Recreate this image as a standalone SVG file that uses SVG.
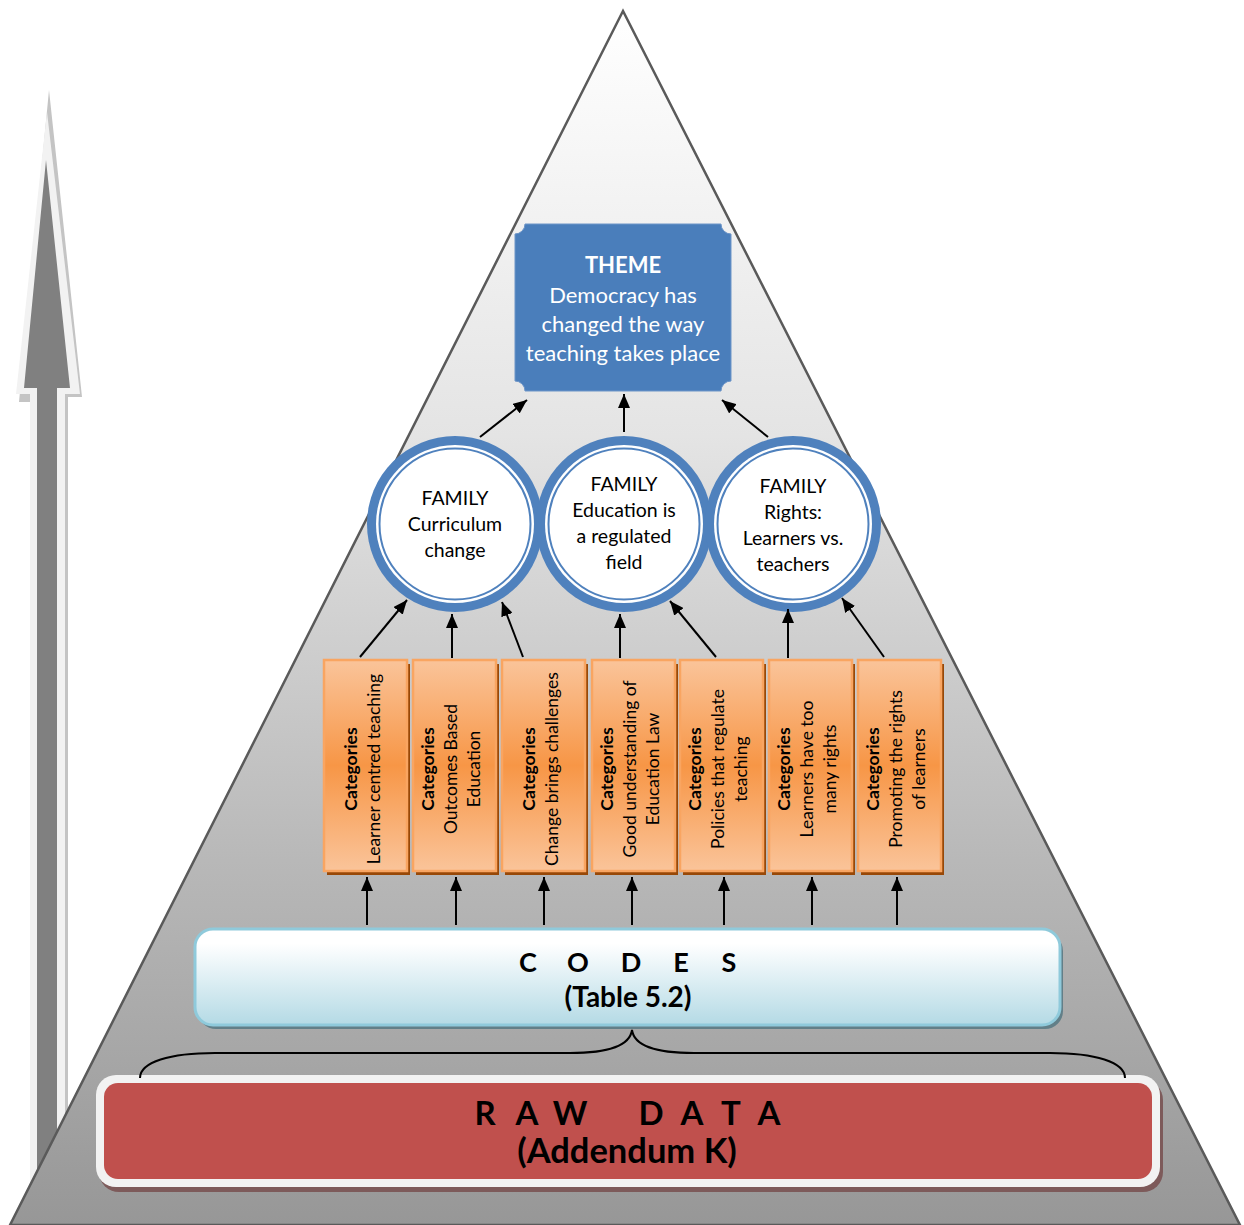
<svg xmlns="http://www.w3.org/2000/svg" width="1244" height="1225" viewBox="0 0 1244 1225">
<defs>
<linearGradient id="pyr" x1="0" y1="0" x2="0" y2="1">
<stop offset="0" stop-color="#ffffff"/>
<stop offset="0.35" stop-color="#e4e4e4"/>
<stop offset="0.7" stop-color="#b8b8b8"/>
<stop offset="1" stop-color="#979797"/>
</linearGradient>
<linearGradient id="cat" x1="0" y1="0" x2="0" y2="1">
<stop offset="0" stop-color="#fac49a"/>
<stop offset="0.5" stop-color="#f79646"/>
<stop offset="1" stop-color="#fac49a"/>
</linearGradient>
<linearGradient id="codes" x1="0" y1="0" x2="0" y2="1">
<stop offset="0" stop-color="#ffffff"/>
<stop offset="0.15" stop-color="#ffffff"/>
<stop offset="1" stop-color="#b4dae5"/>
</linearGradient>
<marker id="ah" markerUnits="userSpaceOnUse" markerWidth="14" markerHeight="12" viewBox="0 0 14 12" refX="14" refY="6" orient="auto">
<path d="M0,0 L14,6 L0,12 z" fill="#000"/>
</marker>
<style>
.t{font-family:Lato,"Open Sans","Liberation Sans",sans-serif;}
.theme{fill:#fff;font-size:22px;text-anchor:middle;}
.fam{fill:#000;font-size:19.5px;text-anchor:middle;}
.ct{fill:#000;font-size:17.5px;text-anchor:middle;}
.b{font-weight:bold;}
.conn line,.conn path{stroke:#000;stroke-width:2;fill:none;}
.conn line{marker-end:url(#ah);}
.catbox{fill:url(#cat);stroke:#f9a561;stroke-width:2.5;}
.catsh{fill:#984807;}
.ring{fill:#4f81bd;}
.inner{fill:#fff;stroke:#4f81bd;stroke-width:2;}
</style>
</defs>
<rect width="1244" height="1225" fill="#fff"/>
<g id="side-arrow">
<polygon points="49,90 82,397 68,397 68,1225 32,1225 32,402 19,402" fill="#c4c4c4"/>
<polygon points="47,112 80,394 65,394 65,1225 30,1225 30,394 16,394" fill="#f2f2f2"/>
<polygon points="46,160 70,388 57,388 57,1225 37,1225 37,388 24,388" fill="#808080"/>
</g>
<g id="pyramid">
<polygon points="623,11 10,1225 1240,1225" fill="url(#pyr)" stroke="#5a5a5a" stroke-width="2.5"/>
</g>
<g id="theme">
<path d="M525,224 H721 A10,10 0 0 0 731,234 V381 A10,10 0 0 0 721,391 H525 A10,10 0 0 0 515,381 V234 A10,10 0 0 0 525,224 Z" fill="#4a7ebb" stroke="#6d95c8" stroke-width="1"/>
<text class="t theme b" x="623" y="273">THEME</text>
<text class="t theme" x="623" y="303">Democracy has</text>
<text class="t theme" x="623" y="332">changed the  way</text>
<text class="t theme" x="623" y="361">teaching takes place</text>
</g>
<g id="family1">
<circle class="ring" cx="455" cy="524" r="88"/>
<circle cx="455" cy="524" r="79" fill="#fff"/>
<circle class="inner" cx="455" cy="524" r="75.5"/>
<text class="t fam" x="455" y="505">FAMILY</text>
<text class="t fam" x="455" y="531">Curriculum</text>
<text class="t fam" x="455" y="557">change</text>
</g>
<g id="family2">
<circle class="ring" cx="624" cy="524" r="88"/>
<circle cx="624" cy="524" r="79" fill="#fff"/>
<circle class="inner" cx="624" cy="524" r="75.5"/>
<text class="t fam" x="624" y="491">FAMILY</text>
<text class="t fam" x="624" y="517">Education is</text>
<text class="t fam" x="624" y="543">a regulated</text>
<text class="t fam" x="624" y="569">field</text>
</g>
<g id="family3">
<circle class="ring" cx="793" cy="524" r="88"/>
<circle cx="793" cy="524" r="79" fill="#fff"/>
<circle class="inner" cx="793" cy="524" r="75.5"/>
<text class="t fam" x="793" y="493">FAMILY</text>
<text class="t fam" x="793" y="519">Rights:</text>
<text class="t fam" x="793" y="545">Learners vs.</text>
<text class="t fam" x="793" y="571">teachers</text>
</g>
<g id="cat1">
<rect class="catsh" x="327" y="664" width="83" height="211"/>
<rect class="catbox" x="324" y="660" width="83" height="211"/>
<g transform="translate(0,769) rotate(-90)">
<text class="t ct b" x="0" y="357">Categories</text>
<text class="t ct" x="0" y="380">Learner centred  teaching</text>
</g>
</g>
<g id="cat2">
<rect class="catsh" x="416" y="664" width="83" height="211"/>
<rect class="catbox" x="413" y="660" width="83" height="211"/>
<g transform="translate(0,769) rotate(-90)">
<text class="t ct b" x="0" y="434">Categories</text>
<text class="t ct" x="0" y="457">Outcomes Based</text>
<text class="t ct" x="0" y="480">Education</text>
</g>
</g>
<g id="cat3">
<rect class="catsh" x="505" y="664" width="83" height="211"/>
<rect class="catbox" x="502" y="660" width="83" height="211"/>
<g transform="translate(0,769) rotate(-90)">
<text class="t ct b" x="0" y="535">Categories</text>
<text class="t ct" x="0" y="558">Change brings challenges</text>
</g>
</g>
<g id="cat4">
<rect class="catsh" x="595" y="664" width="83" height="211"/>
<rect class="catbox" x="592" y="660" width="83" height="211"/>
<g transform="translate(0,769) rotate(-90)">
<text class="t ct b" x="0" y="613">Categories</text>
<text class="t ct" x="0" y="636">Good understanding of</text>
<text class="t ct" x="0" y="659">Education Law</text>
</g>
</g>
<g id="cat5">
<rect class="catsh" x="683" y="664" width="83" height="211"/>
<rect class="catbox" x="680" y="660" width="83" height="211"/>
<g transform="translate(0,769) rotate(-90)">
<text class="t ct b" x="0" y="701">Categories</text>
<text class="t ct" x="0" y="724">Policies that regulate</text>
<text class="t ct" x="0" y="747">teaching</text>
</g>
</g>
<g id="cat6">
<rect class="catsh" x="772" y="664" width="83" height="211"/>
<rect class="catbox" x="769" y="660" width="83" height="211"/>
<g transform="translate(0,769) rotate(-90)">
<text class="t ct b" x="0" y="790">Categories</text>
<text class="t ct" x="0" y="813">Learners have too</text>
<text class="t ct" x="0" y="836">many rights</text>
</g>
</g>
<g id="cat7">
<rect class="catsh" x="861" y="664" width="83" height="211"/>
<rect class="catbox" x="858" y="660" width="83" height="211"/>
<g transform="translate(0,769) rotate(-90)">
<text class="t ct b" x="0" y="879">Categories</text>
<text class="t ct" x="0" y="902">Promoting the rights</text>
<text class="t ct" x="0" y="925">of  learners</text>
</g>
</g>
<g id="codes">
<rect x="198" y="933" width="865" height="96" rx="18" fill="#627f88"/>
<rect x="195" y="929" width="865" height="96" rx="18" fill="url(#codes)" stroke="#8fcadb" stroke-width="3"/>
<text class="t b" x="528 578 631 681 729" y="972" font-size="27" text-anchor="middle" fill="#000">CODES</text>
<text class="t b" x="628" y="1007" font-size="28" text-anchor="middle" fill="#000">(Table 5.2)</text>
</g>
<g id="rawdata">
<rect x="99" y="1080" width="1064" height="112" rx="20" fill="#7d5a5a"/>
<rect x="96" y="1075" width="1064" height="112" rx="20" fill="#f2f2f2"/>
<rect x="104" y="1083" width="1048" height="96" rx="14" fill="#c0504d"/>
<text class="t b" x="485 527 570 651 692 731 769" y="1125" font-size="33" text-anchor="middle" fill="#000">RAWDATA</text>
<text class="t b" x="627" y="1163" font-size="34.5" text-anchor="middle" fill="#000">(Addendum K)</text>
</g>
<g id="connectors" class="conn">
<line x1="480" y1="437" x2="527" y2="400"/>
<line x1="624" y1="432" x2="624" y2="394"/>
<line x1="768" y1="437" x2="722" y2="400"/>
<line x1="360" y1="657" x2="407" y2="600"/>
<line x1="452" y1="658" x2="452" y2="614"/>
<line x1="523" y1="657" x2="502" y2="602"/>
<line x1="620" y1="658" x2="620" y2="614"/>
<line x1="716" y1="657" x2="670" y2="601"/>
<line x1="788" y1="658" x2="788" y2="609"/>
<line x1="884" y1="657" x2="842" y2="598"/>
<line x1="367" y1="925" x2="367" y2="877"/>
<line x1="456" y1="925" x2="456" y2="877"/>
<line x1="544" y1="925" x2="544" y2="877"/>
<line x1="632" y1="925" x2="632" y2="877"/>
<line x1="724" y1="925" x2="724" y2="877"/>
<line x1="812" y1="925" x2="812" y2="877"/>
<line x1="897" y1="925" x2="897" y2="877"/>
<path d="M140,1078 C140,1062 170,1053 215,1053 L570,1053 C610,1053 630,1045 632,1030 C634,1045 654,1053 694,1053 L1050,1053 C1095,1053 1125,1062 1125,1078"/>
</g>
</svg>
